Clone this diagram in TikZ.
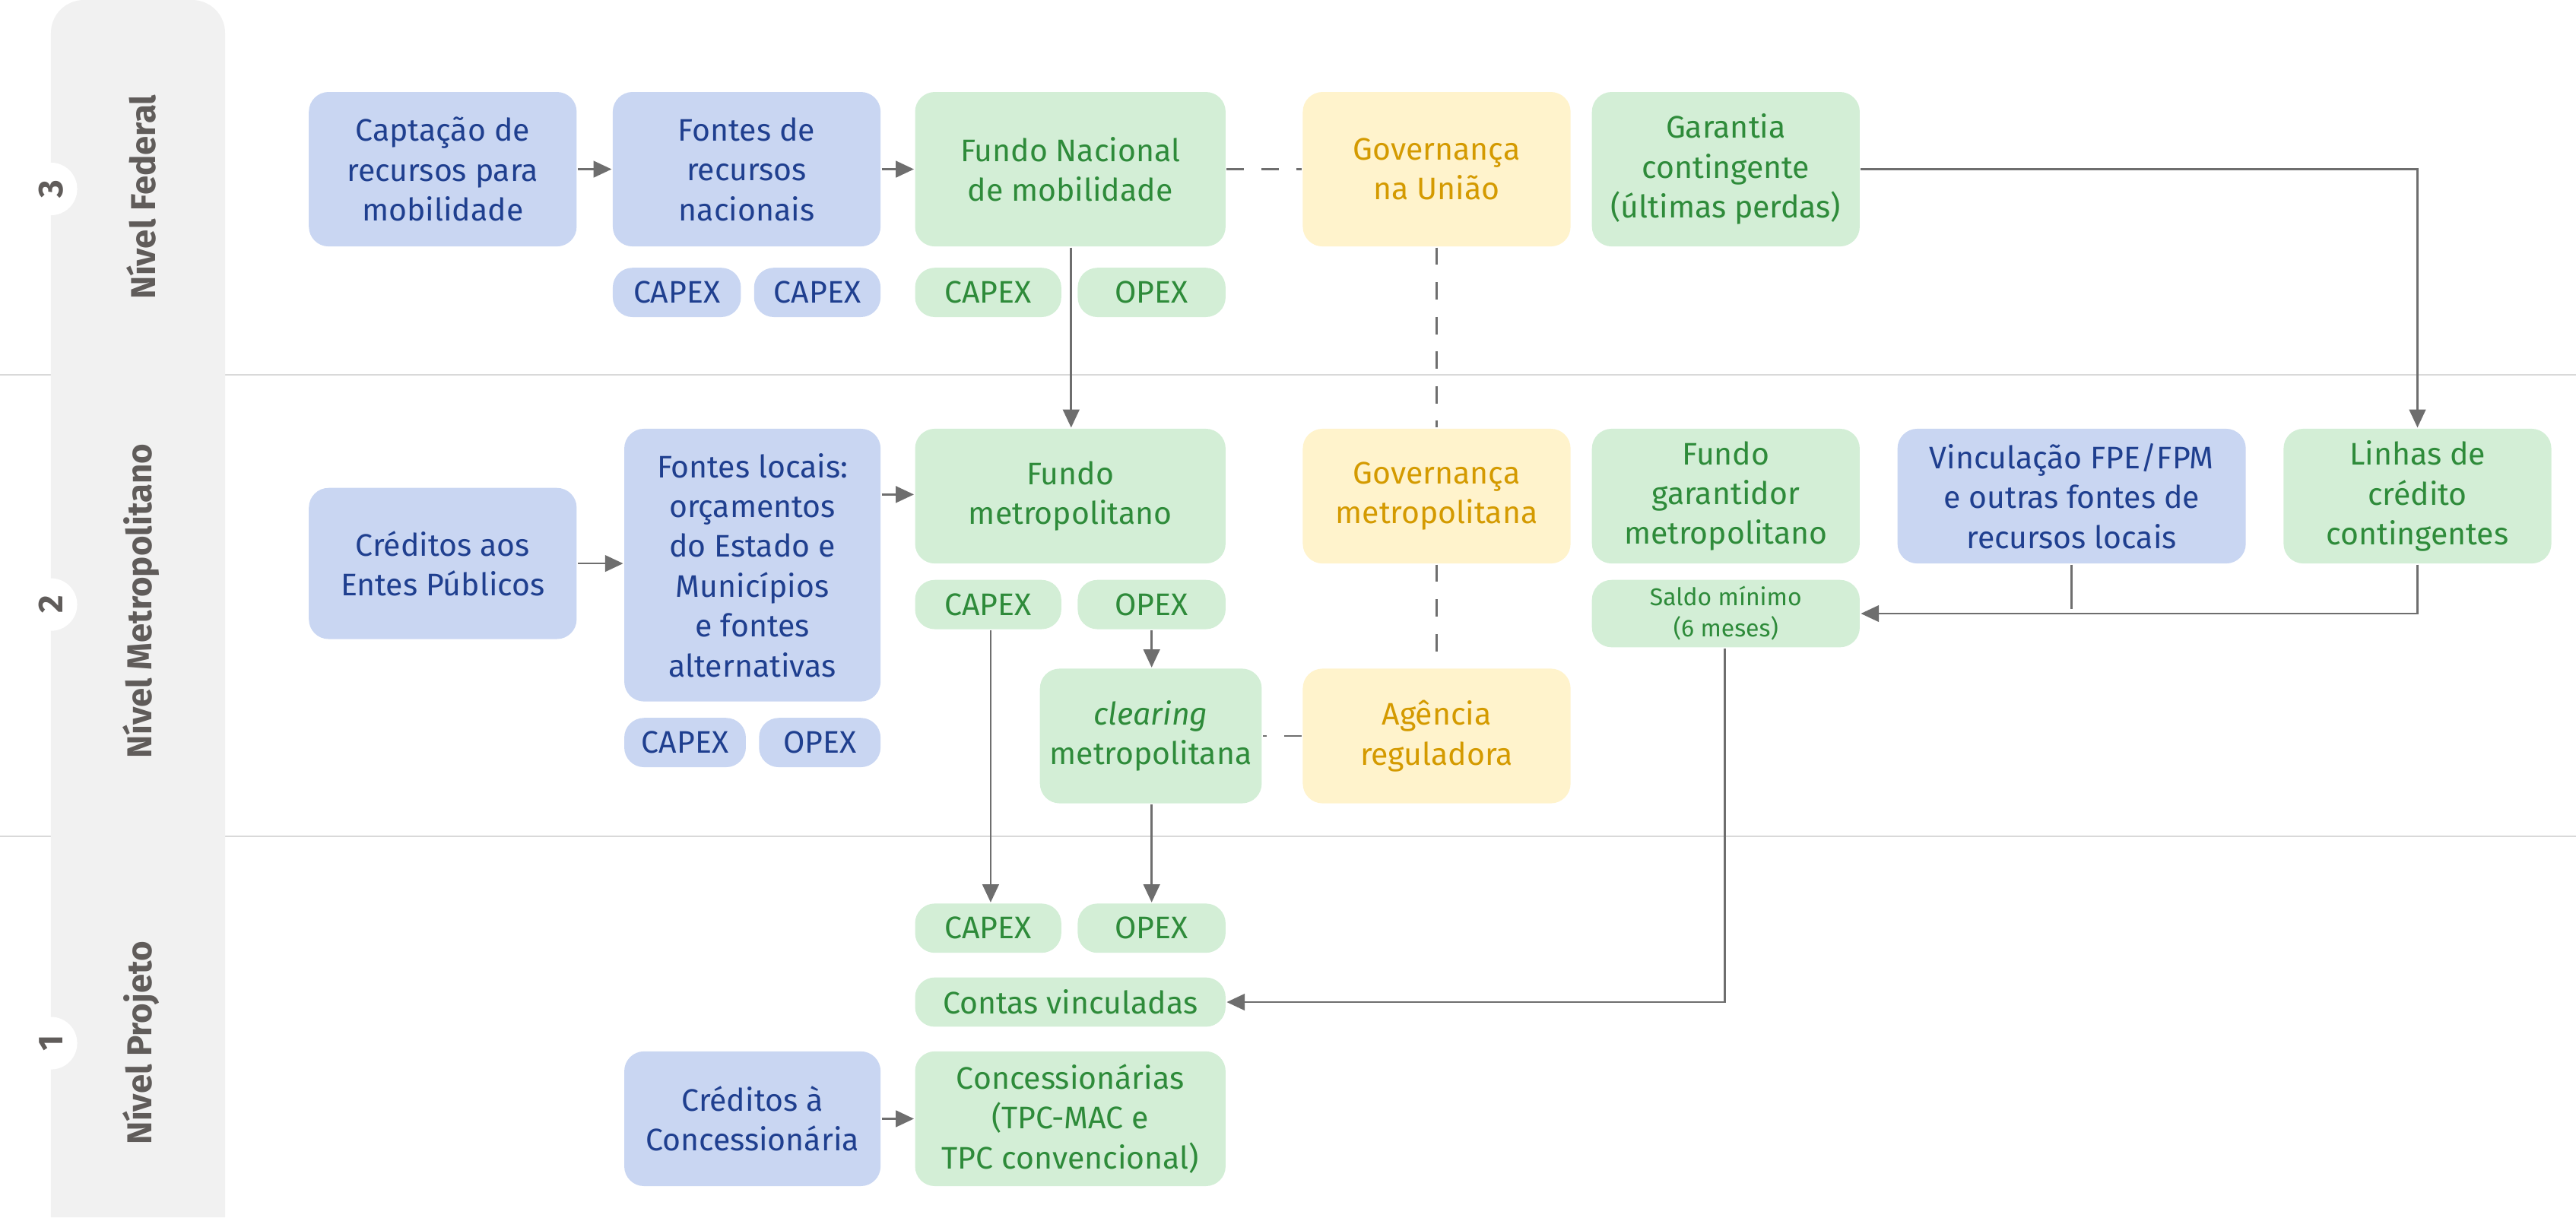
\documentclass[tikz,border=0pt]{standalone}
\usepackage{fontspec}
\setmainfont{Fira Sans}
\usetikzlibrary{arrows.meta}
\definecolor{bluefill}{HTML}{C9D6F2}
\definecolor{bluetext}{HTML}{1F3F8F}
\definecolor{greenfill}{HTML}{D3EED6}
\definecolor{greentext}{HTML}{2E8B3A}
\definecolor{yellowfill}{HTML}{FFF3CC}
\definecolor{yellowtext}{HTML}{D49A00}
\definecolor{bandgray}{HTML}{F1F1F1}
\definecolor{labelgray}{HTML}{605C5A}
\definecolor{linegray}{HTML}{6E6E6E}
\tikzset{
  box/.style={rounded corners=1.2mm, align=center, inner sep=0pt,
    font=\fontsize{5.4}{6.9}\selectfont},
  fedbox/.style={box, fill=bluefill, text=bluetext},
  metbox/.style={box, fill=greenfill, text=greentext},
  govbox/.style={box, fill=yellowfill, text=yellowtext},
  flow/.style={draw=linegray, line width=0.35pt, -{Triangle[length=1.1mm,width=1mm]}},
  link/.style={draw=linegray, line width=0.35pt, dashed},
  plain/.style={draw=linegray, line width=0.35pt},
  level/.style={rotate=90, text=labelgray, font=\fontsize{6}{7}\selectfont\bfseries}
}
% box from corner to corner, in pixels of the reference
\newcommand{\bx}[7]{\node[#1, minimum width={0.1mm*(#5-#3)}, minimum height={0.1mm*(#6-#4)}]
  (#2) at ({(#3+#5)/2},{(#4+#6)/2}) {#7};}
\begin{document}
\begin{tikzpicture}[x=0.1mm, y=-0.1mm]
  \useasboundingbox (0,0) rectangle (1568,741);
  % levels
  \draw[black!15, line width=0.3pt] (0,228) -- (1568,228) (0,509) -- (1568,509);
  \fill[bandgray, rounded corners=2mm] (31,741) -- (31,0) -- (137,0) -- (137,741);
  \fill[bandgray] (31,741) rectangle (137,700);
  \foreach \y/\n in {115/3, 368/2, 635/1}
    \node[circle, fill=white, minimum size=3.2mm, inner sep=0pt, level] (n\n) at (31,\y) {\n};
  \node[level] (lfed) at (86,120) {Nível Federal};
  \node[level] (lmet) at (86,366) {Nível Metropolitano};
  \node[level] (lproj) at (86,635) {Nível Projeto};

  % federal
  \bx{fedbox}{capt}{188}{56}{351}{150}{Captação de\\recursos para\\mobilidade}
  \bx{fedbox}{fnac}{373}{56}{536}{150}{Fontes de\\recursos\\nacionais}
  \bx{fedbox}{fcapa}{373}{163}{451}{193}{CAPEX}
  \bx{fedbox}{fcapb}{459}{163}{536}{193}{CAPEX}
  \bx{metbox}{fnm}{557}{56}{746}{150}{Fundo Nacional\\de mobilidade}
  \bx{metbox}{fnmcap}{557}{163}{646}{193}{CAPEX}
  \bx{metbox}{fnmop}{656}{163}{746}{193}{OPEX}
  \bx{govbox}{govu}{793}{56}{956}{150}{Governança\\na União}
  \bx{metbox}{garant}{969}{56}{1132}{150}{Garantia\\contingente\\(últimas perdas)}

  % metropolitano
  \bx{fedbox}{credep}{188}{297}{351}{389}{Créditos aos\\Entes Públicos}
  \bx{fedbox}{floc}{380}{261}{536}{427}{Fontes locais:\\orçamentos\\do Estado e\\Municípios\\e fontes\\alternativas}
  \bx{fedbox}{floccap}{380}{437}{454}{467}{CAPEX}
  \bx{fedbox}{flocop}{462}{437}{536}{467}{OPEX}
  \bx{metbox}{fmet}{557}{261}{746}{343}{Fundo\\metropolitano}
  \bx{metbox}{fmetcap}{557}{353}{646}{383}{CAPEX}
  \bx{metbox}{fmetop}{656}{353}{746}{383}{OPEX}
  \bx{metbox}{clear}{633}{407}{768}{489}{\textit{clearing}\\metropolitana}
  \bx{govbox}{govm}{793}{261}{956}{343}{Governança\\metropolitana}
  \bx{govbox}{agenc}{793}{407}{956}{489}{Agência\\reguladora}
  \bx{metbox}{fgar}{969}{261}{1132}{343}{Fundo\\garantidor\\metropolitano}
  \bx{metbox, font=\fontsize{4.2}{5.4}\selectfont}{saldo}{969}{353}{1132}{394}{Saldo mínimo\\(6 meses)}
  \bx{fedbox}{vinc}{1155}{261}{1367}{343}{Vinculação FPE/FPM\\e outras fontes de\\recursos locais}
  \bx{metbox}{linhas}{1390}{261}{1553}{343}{Linhas de\\crédito\\contingentes}

  % projeto
  \bx{metbox}{pcap}{557}{550}{646}{580}{CAPEX}
  \bx{metbox}{pop}{656}{550}{746}{580}{OPEX}
  \bx{metbox}{contas}{557}{595}{746}{625}{Contas vinculadas}
  \bx{fedbox}{credc}{380}{640}{536}{722}{Créditos à\\Concessionária}
  \bx{metbox}{conc}{557}{640}{746}{722}{Concessionárias\\(TPC-MAC e\\TPC convencional)}

  % connectors
  \draw[flow] (capt) -- (fnac);
  \draw[flow] (fnac) -- (fnm);
  \draw[link] (fnm) -- (govu);
  \draw[flow] (fnm.south -| 652,0) -- (fmet.north -| 652,0);
  \draw[flow] (garant.east) -| (linhas.north);
  \draw[link] (govu) -- (govm);
  \draw[link] (govm) -- (agenc);
  \draw[link] (agenc) -- (clear);
  \draw[flow] (credep.east |- 0,343) -- (floc.west |- 0,343);
  \draw[flow] (floc.east |- 0,301) -- (fmet.west |- 0,301);
  \draw[flow] (fmetop.south -| 701,0) -- (clear.north -| 701,0);
  \draw[flow] (fmetcap.south -| 603,0) -- (pcap.north -| 603,0);
  \draw[flow] (clear.south -| 701,0) -- (pop.north -| 701,0);
  \draw[flow] (linhas.south) |- (saldo.east);
  \draw[plain] (vinc.south) -- ++(0,27);
  \draw[flow] (saldo.south -| 1050,0) |- (contas.east);
  \draw[flow] (credc) -- (conc);
\end{tikzpicture}
\end{document}
